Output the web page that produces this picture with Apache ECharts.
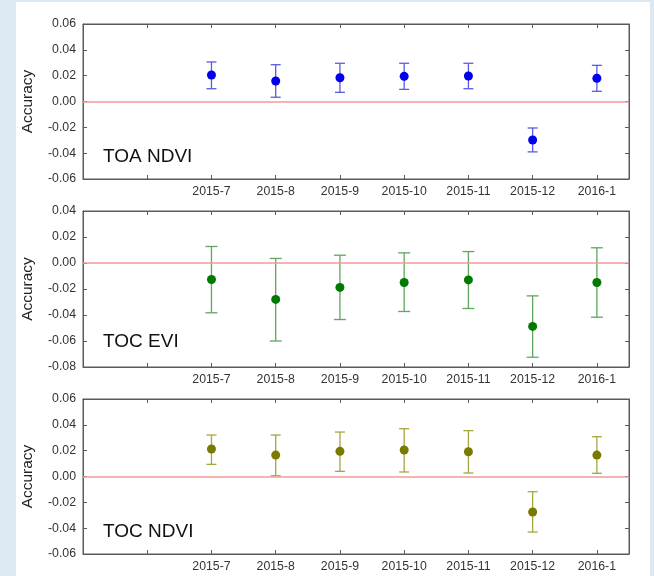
<!DOCTYPE html>
<html>
<head>
<meta charset="utf-8">
<script src="https://cdn.jsdelivr.net/npm/echarts@6/dist/echarts.min.js"></script>
<style>
html,body{margin:0;padding:0;background:#dde9f2;}
#bg{position:absolute;left:16px;top:2px;width:634px;height:574px;background:#fff;}
#chart{position:absolute;left:0;top:0;width:654px;height:576px;}
</style>
</head>
<body>
<div id="bg"></div>
<div id="chart"></div>
<script>
// categories (positions 2..8 on the x scale)
const months = ['2015-7','2015-8','2015-9','2015-10','2015-11','2015-12','2016-1'];
const positions = [2,3,4,5,6,7,8];

// TOA NDVI
const toaNdviMean = [0.0205, 0.0159, 0.0184, 0.0195, 0.0197, -0.0298, 0.0180];
const toaNdviHigh = [0.0306, 0.0285, 0.0296, 0.0296, 0.0296, -0.0205, 0.0280];
const toaNdviLow  = [0.0099, 0.0033, 0.0071, 0.0094, 0.0099, -0.0390, 0.0079];

// TOC EVI
const tocEviMean = [-0.0127, -0.0280, -0.0188, -0.0150, -0.0130, -0.0488, -0.0150];
const tocEviHigh = [0.0127, 0.0035, 0.0060, 0.0078, 0.0088, -0.0253, 0.0117];
const tocEviLow  = [-0.0383, -0.0600, -0.0435, -0.0373, -0.0350, -0.0725, -0.0417];

// TOC NDVI
const tocNdviMean = [0.0213, 0.0166, 0.0195, 0.0205, 0.0192, -0.0275, 0.0166];
const tocNdviHigh = [0.0321, 0.0321, 0.0344, 0.0370, 0.0355, -0.0118, 0.0308];
const tocNdviLow  = [0.0094, 0.0006, 0.0040, 0.0035, 0.0027, -0.0430, 0.0025];

const panelNames = ['TOA NDVI', 'TOC EVI', 'TOC NDVI'];
const yMins = [-0.06, -0.08, -0.06];
const yMaxs = [0.06, 0.04, 0.06];

const panels = [
  {mean: toaNdviMean, hi: toaNdviHigh, lo: toaNdviLow, dot: '#0000ee', bar: '#5a5ae6', cap: 5},
  {mean: tocEviMean, hi: tocEviHigh, lo: tocEviLow, dot: '#007a00', bar: '#5fa65f', cap: 6},
  {mean: tocNdviMean, hi: tocNdviHigh, lo: tocNdviLow, dot: '#7a7a00', bar: '#a6a640', cap: 5}
];

const grids = [
  {left: 83, right: 25, top: 24, height: 155},
  {left: 83, right: 25, top: 211, height: 156},
  {left: 83, right: 25, top: 399, height: 155}
];

const frame = '#5a5a5a';
const font = 'Liberation Sans, Arial, sans-serif';
const xAxis = [], yAxis = [], series = [];

grids.forEach((g, i) => {
  g.show = true; g.borderColor = frame; g.borderWidth = 1; g.backgroundColor = 'transparent';
  xAxis.push({
    type: 'value', gridIndex: i, min: 0, max: 8.5, interval: 1, position: 'bottom',
    axisLine: {show: true, onZero: false, lineStyle: {color: frame}},
    axisTick: {show: true, inside: true, length: 4, lineStyle: {color: frame}},
    splitLine: {show: false},
    axisLabel: {
      color: '#333', fontSize: 12.3, fontFamily: font, margin: 7,
      showMinLabel: true, showMaxLabel: true,
      formatter: v => { const k = positions.indexOf(v); return k >= 0 ? months[k] : ''; }
    }
  });
  xAxis.push({
    type: 'value', gridIndex: i, min: 0, max: 8.5, interval: 1, position: 'top',
    axisLine: {show: true, onZero: false, lineStyle: {color: frame}},
    axisTick: {show: true, inside: true, length: 4, lineStyle: {color: frame}},
    splitLine: {show: false}, axisLabel: {show: false}
  });
  yAxis.push({
    type: 'value', gridIndex: i, min: yMins[i], max: yMaxs[i], interval: 0.02, position: 'left',
    name: 'Accuracy', nameLocation: 'middle', nameGap: 47,
    nameTextStyle: {color: '#222', fontSize: 15.5, fontFamily: font},
    axisLine: {show: true, onZero: false, lineStyle: {color: frame}},
    axisTick: {show: true, inside: true, length: 4, lineStyle: {color: frame}},
    splitLine: {show: false},
    axisLabel: {color: '#333', fontSize: 12.3, fontFamily: font, margin: 7,
      formatter: v => v.toFixed(2)}
  });
  yAxis.push({
    type: 'value', gridIndex: i, min: yMins[i], max: yMaxs[i], interval: 0.02, position: 'right',
    axisLine: {show: true, onZero: false, lineStyle: {color: frame}},
    axisTick: {show: true, inside: true, length: 4, lineStyle: {color: frame}},
    splitLine: {show: false}, axisLabel: {show: false}
  });

  const p = panels[i];
  const xi = i * 2, yi = i * 2;
  series.push({
    type: 'line', xAxisIndex: xi, yAxisIndex: yi, data: [], silent: true,
    markLine: {symbol: 'none', silent: true, label: {show: false},
      lineStyle: {color: '#f29a9a', width: 1.5, type: 'solid'}, data: [{yAxis: 0}]}
  });
  series.push({
    type: 'custom', xAxisIndex: xi, yAxisIndex: yi, z: 3,
    data: positions.map((x, k) => [x, p.lo[k], p.hi[k]]),
    renderItem: (params, api) => {
      const x = api.value(0);
      const lo = api.coord([x, api.value(1)]);
      const hi = api.coord([x, api.value(2)]);
      const w = p.cap;
      const st = {stroke: p.bar, lineWidth: 1.3};
      return {type: 'group', children: [
        {type: 'line', shape: {x1: lo[0], y1: lo[1], x2: hi[0], y2: hi[1]}, style: st},
        {type: 'line', shape: {x1: hi[0]-w, y1: hi[1], x2: hi[0]+w, y2: hi[1]}, style: st},
        {type: 'line', shape: {x1: lo[0]-w, y1: lo[1], x2: lo[0]+w, y2: lo[1]}, style: st}
      ]};
    }
  });
  series.push({
    type: 'scatter', xAxisIndex: xi, yAxisIndex: yi, z: 4, symbol: 'circle', symbolSize: 9,
    itemStyle: {color: p.dot, opacity: 1},
    data: positions.map((x, k) => [x, p.mean[k]])
  });
});

const titles = panelNames.map((t, i) => ({
  text: t, left: 103, top: [147, 332, 522][i],
  textStyle: {color: '#111', fontSize: 19, fontWeight: 'normal', fontFamily: font},
  padding: 0
}));

const chart = echarts.init(document.getElementById('chart'), null, {renderer: 'canvas'});
chart.setOption({
  backgroundColor: 'transparent',
  animation: false,
  title: titles,
  grid: grids,
  xAxis: xAxis,
  yAxis: yAxis,
  series: series
});
</script>
</body>
</html>
